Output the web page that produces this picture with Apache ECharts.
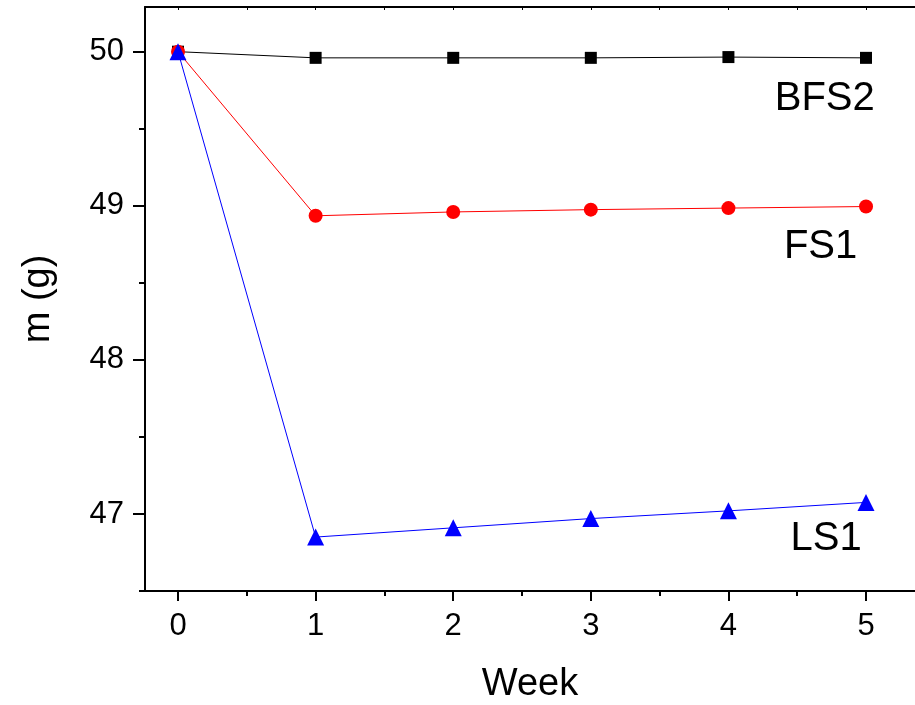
<!DOCTYPE html>
<html><head><meta charset="utf-8">
<script src="https://cdn.jsdelivr.net/npm/echarts@6/dist/echarts.min.js"></script>
<style>html,body{margin:0;padding:0;background:#fff}#c{width:915px;height:705px}</style>
</head><body><div id="c"></div>
<script>
const weeks = [0, 1, 2, 3, 4, 5];
const BFS2 = [50.00, 49.96, 49.96, 49.96, 49.965, 49.96];
const FS1 = [50.00, 48.935, 48.96, 48.975, 48.985, 48.995];
const LS1 = [50.00, 46.85, 46.91, 46.97, 47.02, 47.075];
const xTicks = [0, 1, 2, 3, 4, 5];
const xMinor = [0.5, 1.5, 2.5, 3.5, 4.5];
const yTicks = [47, 48, 49, 50];
const yMinor = [46.5, 47.5, 48.5, 49.5];
const seriesNames = ['BFS2', 'FS1', 'LS1'];
const labelPos = [[4.70, 49.69], [4.67, 48.73], [4.71, 46.835]];

const font = 'Liberation Sans, Arial, sans-serif';
const X_MIN = -0.24, X_MAX = 5.356, Y_MIN = 46.5, Y_MAX = 50.29;

function pairs(v){ return weeks.map((w,i)=>[w, v[i]]); }
function mk(name, data, color, symbol, size, lp){
  return {
    name, type:'line', data: pairs(data), xAxisIndex:0, yAxisIndex:0,
    symbol, symbolSize:size, showSymbol:true,
    lineStyle:{color, width:1}, itemStyle:{color},
    z: 3,
    markPoint:{
      symbol:'rect', symbolSize:[1,1], itemStyle:{color:'rgba(0,0,0,0)'},
      label:{show:true, position:'inside', formatter:name, color:'#000', fontSize:40, fontFamily:font},
      data:[{coord:lp}]
    },
    animation:false
  };
}
const chart = echarts.init(document.getElementById('c'));
chart.setOption({
  backgroundColor:'#fff',
  animation:false,
  grid:{left:145, top:7, right:0, bottom:114, containLabel:false, outerBoundsMode:'none'},
  xAxis:[
    {type:'value', min:X_MIN, max:X_MAX, position:'bottom',
     axisLine:{show:true, onZero:false, lineStyle:{color:'#000', width:2}},
     axisTick:{show:true, customValues:xTicks, length:10, inside:false, lineStyle:{color:'#000', width:2}},
     axisLabel:{show:true, customValues:xTicks, color:'#000', fontSize:31, fontFamily:font, margin:20},
     splitLine:{show:false},
     name:'Week', nameLocation:'middle', nameGap:75, nameTextStyle:{color:'#000', fontSize:38, fontFamily:font}},
    {type:'value', min:X_MIN, max:X_MAX, position:'bottom',
     axisLine:{show:false, onZero:false},
     axisTick:{show:true, customValues:xMinor, length:5, lineStyle:{color:'#000', width:2}},
     axisLabel:{show:false}, splitLine:{show:false}},
    {type:'value', min:X_MIN, max:X_MAX, position:'top',
     axisLine:{show:true, onZero:false, lineStyle:{color:'#000', width:2}},
     axisTick:{show:true, customValues:xTicks.concat(xMinor), length:3, inside:true, lineStyle:{color:'#000', width:1}},
     axisLabel:{show:false}, splitLine:{show:false}}
  ],
  yAxis:[
    {type:'value', min:Y_MIN, max:Y_MAX, position:'left',
     axisLine:{show:true, onZero:false, lineStyle:{color:'#000', width:2}},
     axisTick:{show:true, customValues:yTicks, length:12, lineStyle:{color:'#000', width:2}},
     axisLabel:{show:true, customValues:yTicks, color:'#000', fontSize:31, fontFamily:font, margin:21},
     splitLine:{show:false},
     name:'m (g)', nameLocation:'middle', nameGap:87, nameRotate:90, nameTextStyle:{color:'#000', fontSize:38, fontFamily:font}},
    {type:'value', min:Y_MIN, max:Y_MAX, position:'left',
     axisLine:{show:false, onZero:false},
     axisTick:{show:true, customValues:yMinor, length:6, lineStyle:{color:'#000', width:2}},
     axisLabel:{show:false}, splitLine:{show:false}}
  ],
  series:[
    mk(seriesNames[0], BFS2, '#000000', 'rect', 12, labelPos[0]),
    mk(seriesNames[1], FS1, '#ff0000', 'circle', 14, labelPos[1]),
    mk(seriesNames[2], LS1, '#0000ff', 'triangle', 17, labelPos[2])
  ]
});
</script></body></html>
